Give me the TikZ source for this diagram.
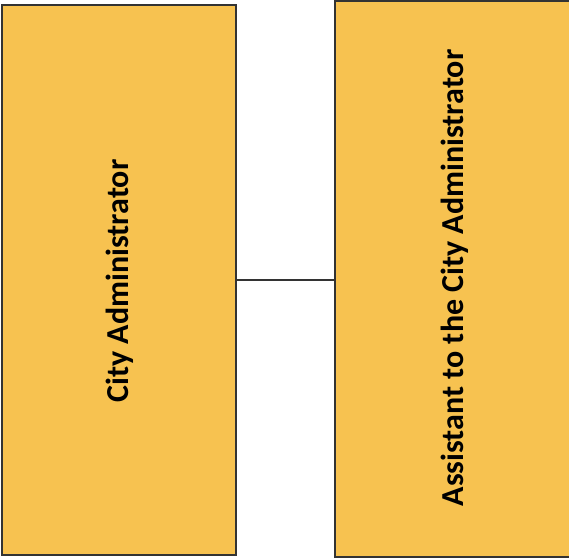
\documentclass[tikz,border=0pt]{standalone}
\usepackage{fontspec}
\setmainfont{Carlito}
\definecolor{boxgold}{RGB}{247,194,80}
\tikzset{
  orgbox/.style={draw=black!80, line width=1.6pt, fill=boxgold, inner sep=0pt},
  vlabel/.style={rotate=90, font=\bfseries\fontsize{32}{38}\selectfont}
}
\begin{document}
\begin{tikzpicture}[x=1pt, y=1pt]
\useasboundingbox (0,0) rectangle (569,559);
\node[orgbox, minimum width=234pt, minimum height=550pt] (admin) at (119,279) {};
\node[orgbox, minimum width=240pt, minimum height=556pt] (assist) at (455,280) {};
\node[vlabel] (adminlbl) at (120,278) {City Administrator};
\node[vlabel] (assistlbl) at (455,281) {Assistant to the City Administrator};
\draw[line width=1.6pt, black!80] (admin.east) -- (admin.east -| assist.west);
\end{tikzpicture}
\end{document}
